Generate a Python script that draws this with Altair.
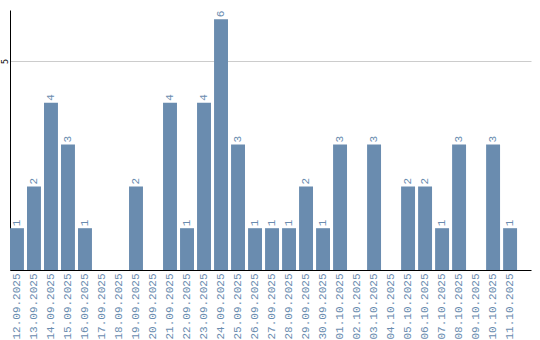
import altair as alt
import pandas as pd

dates = ["12.09.2025","13.09.2025","14.09.2025","15.09.2025","16.09.2025","17.09.2025",
         "18.09.2025","19.09.2025","20.09.2025","21.09.2025","22.09.2025","23.09.2025",
         "24.09.2025","25.09.2025","26.09.2025","27.09.2025","28.09.2025","29.09.2025",
         "30.09.2025","01.10.2025","02.10.2025","03.10.2025","04.10.2025","05.10.2025",
         "06.10.2025","07.10.2025","08.10.2025","09.10.2025","10.10.2025","11.10.2025"]
counts = [1,2,4,3,1,0,0,2,0,4,1,4,6,3,1,1,1,2,1,3,0,3,0,2,2,1,3,0,3,1]

df = pd.DataFrame({"date": dates, "count": counts})

BAR = "#6a8caf"

x = alt.X("date:N", sort=dates, title=None,
          scale=alt.Scale(paddingInner=0.18, paddingOuter=0.41, align=0),
          axis=alt.Axis(labelAngle=-90, labelFont="Liberation Mono", labelFontSize=11,
                        labelColor=BAR, ticks=False, domainColor="black", labelPadding=3,
                        grid=False, labelOverlap=False))
y = alt.Y("count:Q", title=None, scale=alt.Scale(domain=[0, 6.22], nice=False),
          axis=alt.Axis(values=[5], labelAngle=-90, labelFontSize=8, labelColor="black",
                        labelAlign="center", labelBaseline="bottom", ticks=False,
                        labelFont="DejaVu Sans",
                        domainColor="black", gridColor="#cccccc", labelPadding=1))

bars = alt.Chart(df).mark_bar(color=BAR).encode(x=x, y=y)
labels = alt.Chart(df).transform_filter("datum.count > 0").mark_text(
    angle=270, align="left", baseline="middle", dx=2, fontSize=11,
    font="Liberation Mono", color=BAR
).encode(x=x, y=y, text="count:Q")

chart = (bars + labels).properties(
    width=521, height=260,
    autosize=alt.AutoSizeParams(type="none"),
    padding={"left": 10, "top": 10, "right": 9, "bottom": 70}
).configure_view(stroke=None)

chart.save("out.html", embed_options={"renderer": "svg", "actions": False})
